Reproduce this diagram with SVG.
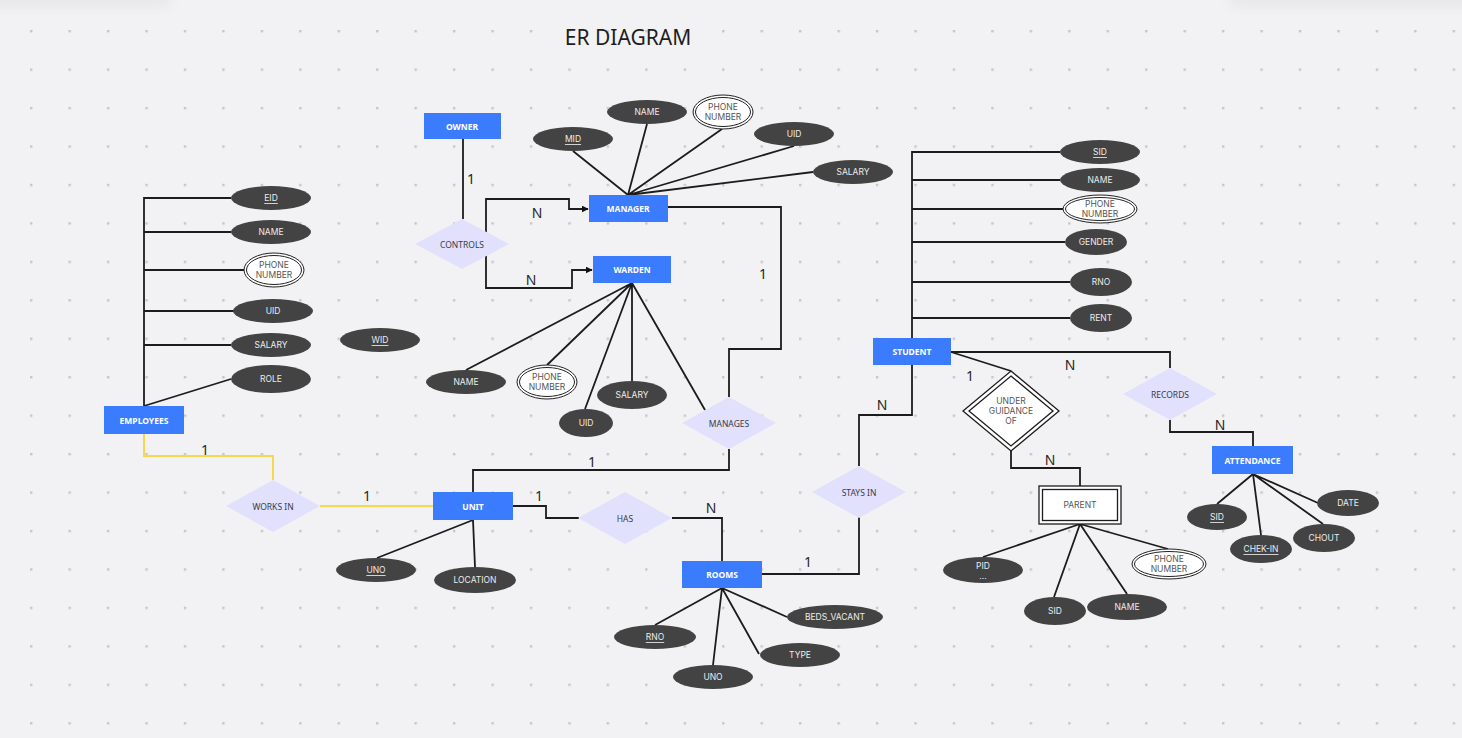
<svg xmlns="http://www.w3.org/2000/svg" width="1462" height="738" viewBox="0 0 1462 738">
<defs>
<pattern id="dots" x="30" y="30" width="38.45" height="38.45" patternUnits="userSpaceOnUse">
<rect x="0" y="0" width="2.4" height="2.4" fill="#c6c6ca"/>
</pattern>
<marker id="arr" viewBox="0 0 10 10" refX="9" refY="5" markerWidth="7" markerHeight="7" markerUnits="userSpaceOnUse" orient="auto">
<path d="M0,0 L10,5 L0,10 z" fill="#111"/>
</marker>
<filter id="blur" x="-20%" y="-200%" width="140%" height="500%"><feGaussianBlur stdDeviation="6"/></filter>
<style>
.ent{fill:#3b7cff}
.entt{fill:#fff;font-family:"Noto Sans","Open Sans",sans-serif;font-size:8.5px;font-weight:bold;text-anchor:middle;dominant-baseline:central}
.att{fill:#434343}
.attt{fill:#ececec;font-family:Inter,"Noto Sans",sans-serif;font-size:8.5px;text-anchor:middle;dominant-baseline:central}
.u{text-decoration:underline}
.mv{fill:#fff;stroke:#222;stroke-width:1}
.mvt{fill:#555;font-family:Inter,"Noto Sans",sans-serif;font-size:8.5px;text-anchor:middle}
.rel{fill:#e1e1fd}
.relt{fill:#3a3a4a;font-family:"Noto Sans",Inter,sans-serif;font-size:8.5px;text-anchor:middle;dominant-baseline:central}
.ln{fill:none;stroke:#1c1c1c;stroke-width:1.8}
.yl{fill:none;stroke:#f5d84e;stroke-width:2}
.card{fill:#262626;font-family:"Noto Sans",Inter,sans-serif;font-size:14px;text-anchor:middle}
</style>
</defs>
<rect width="1462" height="738" fill="#f2f2f4"/>
<rect width="1462" height="738" fill="url(#dots)"/>
<rect x="-20" y="-10" width="190" height="16" fill="#e2e2e5" filter="url(#blur)" opacity="0.7"/>
<rect x="1230" y="-10" width="250" height="16" fill="#e2e2e5" filter="url(#blur)" opacity="0.7"/>
<text x="628" y="45" font-family="'Noto Sans','Open Sans',sans-serif" font-size="21" fill="#1e1e1e" text-anchor="middle">ER DIAGRAM</text>

<g id="connectors">
<!-- owner/controls -->
<path class="ln" d="M463,139 V219"/>
<path class="ln" d="M486,232 V199 H569 V209 H588" marker-end="url(#arr)"/>
<path class="ln" d="M486,256 V288 H572 V270 H592" marker-end="url(#arr)"/>
<!-- manager manages unit -->
<path class="ln" d="M668,207 H781 V349 H729 V397"/>
<path class="ln" d="M729,449 V470 H473 V492"/>
<!-- manager attrs -->
<path class="ln" d="M628,195 L573,151 M628,195 L647,124 M628,195 L722,129 M628,195 L794,146 M628,195 L813,172"/>
<!-- warden attrs -->
<path class="ln" d="M632,283 L466,370 M632,283 L547,365 M632,283 L585,409 M632,283 L632,381 M632,283 L705,410"/>
<!-- employees attrs -->
<path class="ln" d="M144,406 V198 H231 M144,232 H231 M144,270 H244 M144,311 H234 M144,345 H231 M144,406 L231,379"/>
<!-- works in -->
<path class="yl" d="M144,434 V456 H273 V480"/>
<path class="yl" d="M320,506 H433"/>
<!-- unit -->
<path class="ln" d="M513,506 H546 V518 H579"/>
<path class="ln" d="M672,518 H722 V561"/>
<path class="ln" d="M473,520 L377,558 M473,520 L475,567"/>
<!-- rooms -->
<path class="ln" d="M762,574 H859 V517"/>
<path class="ln" d="M722,588 L655,625 M722,588 L713,665 M722,588 L759,654 M722,588 L787,617"/>
<!-- student -->
<path class="ln" d="M912,338 V152 H1060 M912,180 H1060 M912,209 H1063 M912,242 H1065 M912,282 H1070 M912,318 H1070"/>
<path class="ln" d="M912,365 V415 H859 V466"/>
<path class="ln" d="M951,352 L1011,371"/>
<path class="ln" d="M951,352 H1170 V368"/>
<path class="ln" d="M1011,450 V468 H1080 V486"/>
<path class="ln" d="M1080,524 L983,557 M1080,524 L1054,597 M1080,524 L1127,594 M1080,524 L1168,549"/>
<path class="ln" d="M1170,420 V432 H1253 V446"/>
<path class="ln" d="M1253,474 L1217,504 M1253,474 L1261,535 M1253,474 L1323,524 M1253,474 L1318,503"/>
<!-- cardinalities -->
<text class="card" x="471" y="184">1</text>
<text class="card" x="537" y="218">N</text>
<text class="card" x="531" y="285">N</text>
<text class="card" x="763" y="279">1</text>
<text class="card" x="592" y="467">1</text>
<text class="card" x="205" y="455">1</text>
<text class="card" x="367" y="501">1</text>
<text class="card" x="539" y="501">1</text>
<text class="card" x="711" y="513">N</text>
<text class="card" x="808" y="567">1</text>
<text class="card" x="882" y="410">N</text>
<text class="card" x="970" y="381">1</text>
<text class="card" x="1070" y="370">N</text>
<text class="card" x="1050" y="465">N</text>
<text class="card" x="1220" y="430">N</text>
</g>

<g id="owner"><rect class="ent" x="424" y="113" width="77" height="26"/><text class="entt" x="462" y="126">OWNER</text></g>
<g id="controls"><polygon class="rel" points="462,219 509,244 462,269 415,244"/><text class="relt" x="462" y="244">CONTROLS</text></g>
<g id="manager"><rect class="ent" x="589" y="195" width="79" height="27"/><text class="entt" x="628" y="208.5">MANAGER</text></g>
<g id="warden"><rect class="ent" x="593" y="256" width="78" height="27"/><text class="entt" x="632" y="269.5">WARDEN</text></g>
<g id="manages"><polygon class="rel" points="729,397 776,423 729,449 682,423"/><text class="relt" x="729" y="423">MANAGES</text></g>

<g id="mgr-mid"><ellipse class="att" cx="573" cy="139" rx="40" ry="12"/><text class="attt u" x="573" y="139">MID</text></g>
<g id="mgr-name"><ellipse class="att" cx="647" cy="112" rx="40" ry="12"/><text class="attt" x="647" y="112">NAME</text></g>
<g id="mgr-phone"><ellipse class="mv" cx="723" cy="112" rx="30" ry="17"/><ellipse class="mv" cx="723" cy="112" rx="27.5" ry="14.5"/><text class="mvt" x="723" y="110">PHONE</text><text class="mvt" x="723" y="120">NUMBER</text></g>
<g id="mgr-uid"><ellipse class="att" cx="794" cy="134" rx="40" ry="12"/><text class="attt" x="794" y="134">UID</text></g>
<g id="mgr-salary"><ellipse class="att" cx="853" cy="172" rx="40" ry="12"/><text class="attt" x="853" y="172">SALARY</text></g>

<g id="war-name"><ellipse class="att" cx="466" cy="382" rx="40" ry="12"/><text class="attt" x="466" y="382">NAME</text></g>
<g id="war-phone"><ellipse class="mv" cx="547" cy="382" rx="30" ry="17"/><ellipse class="mv" cx="547" cy="382" rx="27.5" ry="14.5"/><text class="mvt" x="547" y="380">PHONE</text><text class="mvt" x="547" y="390">NUMBER</text></g>
<g id="war-uid"><ellipse class="att" cx="586" cy="423" rx="27" ry="14"/><text class="attt" x="586" y="423">UID</text></g>
<g id="war-salary"><ellipse class="att" cx="632" cy="395" rx="35" ry="14"/><text class="attt" x="632" y="395">SALARY</text></g>

<g id="employees"><rect class="ent" x="104" y="406" width="80" height="28"/><text class="entt" x="144" y="420">EMPLOYEES</text></g>
<g id="emp-eid"><ellipse class="att" cx="271" cy="198" rx="40" ry="12"/><text class="attt u" x="271" y="198">EID</text></g>
<g id="emp-name"><ellipse class="att" cx="271" cy="232" rx="40" ry="12"/><text class="attt" x="271" y="232">NAME</text></g>
<g id="emp-phone"><ellipse class="mv" cx="274" cy="270" rx="30" ry="17"/><ellipse class="mv" cx="274" cy="270" rx="27.5" ry="14.5"/><text class="mvt" x="274" y="268">PHONE</text><text class="mvt" x="274" y="278">NUMBER</text></g>
<g id="emp-uid"><ellipse class="att" cx="273" cy="311" rx="40" ry="12"/><text class="attt" x="273" y="311">UID</text></g>
<g id="emp-salary"><ellipse class="att" cx="271" cy="345" rx="40" ry="12"/><text class="attt" x="271" y="345">SALARY</text></g>
<g id="emp-role"><ellipse class="att" cx="271" cy="379" rx="40" ry="14"/><text class="attt" x="271" y="379">ROLE</text></g>
<g id="wid"><ellipse class="att" cx="380" cy="340" rx="40" ry="12"/><text class="attt u" x="380" y="340">WID</text></g>

<g id="works-in"><polygon class="rel" points="273,480 320,506 273,532 226,506"/><text class="relt" x="273" y="506">WORKS IN</text></g>
<g id="unit"><rect class="ent" x="433" y="492" width="80" height="28"/><text class="entt" x="473" y="506">UNIT</text></g>
<g id="unit-uno"><ellipse class="att" cx="376" cy="570" rx="40" ry="12"/><text class="attt u" x="376" y="570">UNO</text></g>
<g id="unit-location"><ellipse class="att" cx="475" cy="580" rx="41" ry="13"/><text class="attt" x="475" y="580">LOCATION</text></g>
<g id="has"><polygon class="rel" points="625,492 672,518 625,544 578,518"/><text class="relt" x="625" y="518">HAS</text></g>

<g id="rooms"><rect class="ent" x="682" y="561" width="80" height="27"/><text class="entt" x="722" y="574.5">ROOMS</text></g>
<g id="room-rno"><ellipse class="att" cx="655" cy="637" rx="41" ry="12"/><text class="attt u" x="655" y="637">RNO</text></g>
<g id="room-uno"><ellipse class="att" cx="713" cy="677" rx="40" ry="12"/><text class="attt" x="713" y="677">UNO</text></g>
<g id="room-type"><ellipse class="att" cx="800" cy="655" rx="40" ry="12"/><text class="attt" x="800" y="655">TYPE</text></g>
<g id="room-beds"><ellipse class="att" cx="835" cy="617" rx="48" ry="12"/><text class="attt" x="835" y="617">BEDS_VACANT</text></g>

<g id="stays-in"><polygon class="rel" points="859,466 906,492 859,518 812,492"/><text class="relt" x="859" y="492">STAYS IN</text></g>
<g id="student"><rect class="ent" x="873" y="338" width="78" height="27"/><text class="entt" x="912" y="351.5">STUDENT</text></g>
<g id="stu-sid"><ellipse class="att" cx="1100" cy="152" rx="40" ry="12"/><text class="attt u" x="1100" y="152">SID</text></g>
<g id="stu-name"><ellipse class="att" cx="1100" cy="180" rx="40" ry="12"/><text class="attt" x="1100" y="180">NAME</text></g>
<g id="stu-phone"><ellipse class="mv" cx="1100" cy="209" rx="37" ry="14"/><ellipse class="mv" cx="1100" cy="209" rx="34.5" ry="11.5"/><text class="mvt" x="1100" y="207">PHONE</text><text class="mvt" x="1100" y="217">NUMBER</text></g>
<g id="stu-gender"><ellipse class="att" cx="1096" cy="242" rx="31" ry="13"/><text class="attt" x="1096" y="242">GENDER</text></g>
<g id="stu-rno"><ellipse class="att" cx="1101" cy="282" rx="31" ry="14"/><text class="attt" x="1101" y="282">RNO</text></g>
<g id="stu-rent"><ellipse class="att" cx="1101" cy="318" rx="31" ry="14"/><text class="attt" x="1101" y="318">RENT</text></g>

<g id="under-guidance-of"><polygon fill="#fff" stroke="#1c1c1c" stroke-width="1.3" points="1011,371 1059,411 1011,451 963,411"/><polygon fill="none" stroke="#1c1c1c" stroke-width="1.3" points="1011,376 1053,411 1011,446 969,411"/><text class="mvt" x="1011" y="404">UNDER</text><text class="mvt" x="1011" y="414">GUIDANCE</text><text class="mvt" x="1011" y="424">OF</text></g>
<g id="parent"><rect x="1039" y="486" width="82" height="38" fill="#fff" stroke="#1c1c1c" stroke-width="1.3"/><rect x="1042.5" y="489.5" width="75" height="31" fill="none" stroke="#1c1c1c" stroke-width="1.3"/><text class="mvt" x="1080" y="508">PARENT</text></g>
<g id="par-pid"><ellipse class="att" cx="983" cy="570" rx="40" ry="13"/><text class="attt" x="983" y="566">PID</text><text class="attt" x="983" y="576">...</text></g>
<g id="par-sid"><ellipse class="att" cx="1055" cy="611" rx="31" ry="14"/><text class="attt" x="1055" y="611">SID</text></g>
<g id="par-name"><ellipse class="att" cx="1127" cy="607" rx="40" ry="13"/><text class="attt" x="1127" y="607">NAME</text></g>
<g id="par-phone"><ellipse class="mv" cx="1169" cy="564" rx="37" ry="15"/><ellipse class="mv" cx="1169" cy="564" rx="34.5" ry="12.5"/><text class="mvt" x="1169" y="562">PHONE</text><text class="mvt" x="1169" y="572">NUMBER</text></g>

<g id="records"><polygon class="rel" points="1170,368 1217,394 1170,420 1123,394"/><text class="relt" x="1170" y="394">RECORDS</text></g>
<g id="attendance"><rect class="ent" x="1212" y="446" width="81" height="28"/><text class="entt" x="1252.5" y="460">ATTENDANCE</text></g>
<g id="att-sid"><ellipse class="att" cx="1217" cy="517" rx="30" ry="13"/><text class="attt u" x="1217" y="517">SID</text></g>
<g id="att-chekin"><ellipse class="att" cx="1261" cy="549" rx="31" ry="14"/><text class="attt u" x="1261" y="549">CHEK-IN</text></g>
<g id="att-chout"><ellipse class="att" cx="1324" cy="538" rx="31" ry="14"/><text class="attt" x="1324" y="538">CHOUT</text></g>
<g id="att-date"><ellipse class="att" cx="1348" cy="503" rx="31" ry="13"/><text class="attt" x="1348" y="503">DATE</text></g>
</svg>
